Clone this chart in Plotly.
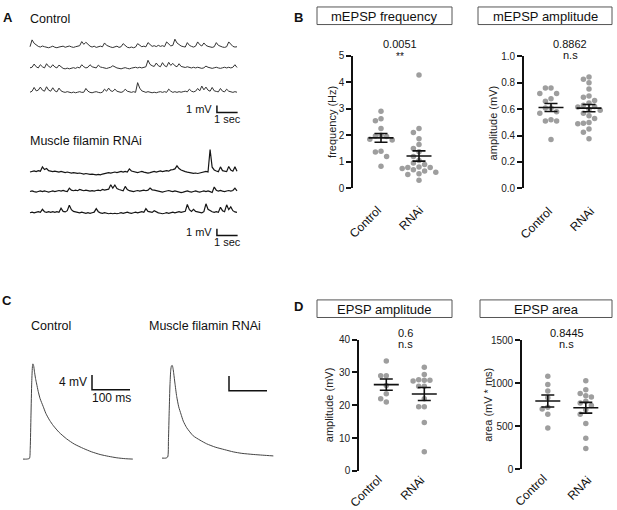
import plotly.graph_objects as go
import numpy as np

W, H = 617, 510
FONT = "Liberation Sans, Arial, sans-serif"

# ---------------- data ----------------
categories = ["Control", "RNAi"]

# Panel A: spontaneous mEPSP recordings (mV, 10 s each)
ctrl_trace_1 = [0.0, 1.0, 0.5, 0.2, 0.05, -0.05, 0.1, 0.0, -0.1, -0.15,
                -0.05, 0.08, -0.08, -0.15, -0.05, 0.0, 0.08, -0.08, 0.0, 0.1,
                -0.02, -0.1, 0.0, 0.08, 0.15, 0.75, 0.35, 0.65, 0.3, 0.08,
                -0.05, 0.08, -0.1, 0.0, 0.08, -0.02, 0.55, 0.2, 0.05, -0.05,
                -0.12, 0.0, 0.08, -0.1, 0.0, 0.45, 0.15, -0.08, -0.15, -0.05,
                -0.15, -0.05, 0.45, 0.15, 0.0, 0.08, -0.02, 0.6, 0.25, 0.05,
                0.15, 0.02, 0.2, 0.05, 0.15, 0.02, 0.7, 0.35, 0.12, 0.2,
                1.1, 0.55, 0.25, 0.1, 0.02, -0.05, 0.6, 0.2, 0.05, -0.05,
                0.08, 0.7, 0.3, 0.1, 0.55, 0.2, 0.05, -0.05, -0.1, 0.0,
                0.6, 0.2, 0.05, -0.05, -0.1, 0.0, 0.7, 0.3, 0.05, -0.05, 0.0]
ctrl_trace_2 = [0.0, 0.08, 0.55, 0.15, -0.02, 0.45, 0.15, -0.02, 0.6, 0.2,
                0.05, 0.45, 0.12, -0.02, 0.4, 0.08, -0.08, -0.15, -0.05, -0.15,
                -0.08, 0.02, -0.08, 0.08, -0.02, 0.45, 0.15, -0.02, 0.08, 0.45,
                0.15, 0.05, -0.02, 0.4, 0.12, 0.05, -0.02, -0.1, 0.0, 0.08,
                0.3, 0.08, -0.02, -0.08, -0.15, -0.05, 0.02, -0.08, -0.15, -0.05,
                0.02, 0.08, -0.02, 0.08, -0.02, 0.08, 0.15, 1.1, 0.5, 0.3,
                0.2, 0.7, 0.3, 0.15, 0.75, 0.3, 0.15, 0.8, 0.35, 0.65,
                0.3, 0.15, 0.6, 0.2, 0.12, 0.05, 0.15, 0.05, -0.02, 0.08,
                -0.02, 0.08, -0.02, -0.08, 0.0, 0.25, 0.08, -0.02, -0.08, 0.0,
                0.08, -0.02, -0.08, 0.0, 0.08, -0.02, 0.08, -0.02, 0.08, 0.45, 0.05]
ctrl_trace_3 = [0.0, 0.15, 0.7, 0.2, 0.3, 0.75, 0.3, 0.15, 0.8, 0.3,
                0.15, 0.65, 0.2, 0.05, 0.6, 0.2, 0.05, -0.02, 0.08, -0.02,
                -0.08, 0.02, -0.08, 0.0, 0.08, -0.02, 0.0, 0.55, 0.15, -0.02,
                -0.08, 0.02, 0.08, -0.02, -0.08, 0.0, 0.45, 0.15, 0.6, 0.2,
                0.12, 0.45, 0.15, 0.05, -0.02, 0.08, 0.45, 0.15, 0.05, -0.02,
                0.08, -0.02, 1.4, 0.6, 0.2, 0.05, -0.02, 0.08, -0.02, -0.08,
                0.0, -0.08, 0.02, 0.08, -0.02, 0.08, -0.02, 0.45, 0.15, -0.02,
                0.08, -0.02, 0.08, 0.0, 0.08, 0.15, 0.05, 0.45, 0.15, 0.05,
                0.15, 0.55, 0.2, 0.9, 0.35, 0.75, 0.3, 0.15, 0.7, 0.2,
                0.12, 0.05, 0.55, 0.15, 0.05, 0.45, 0.15, 0.05, -0.02, 0.08, 0.0]
rnai_trace_1 = [0.0, 0.08, 0.15, 0.05, 0.2, 0.12, 0.75, 0.35, 0.5, 0.2,
                0.12, 0.05, 0.12, 0.02, -0.02, 0.08, -0.02, -0.08, 0.0, -0.08,
                -0.15, -0.08, -0.15, -0.2, -0.15, -0.22, -0.3, -0.22, -0.3, -0.35,
                -0.3, -0.38, -0.42, -0.35, -0.42, -0.3, -0.22, -0.15, -0.08, -0.15,
                -0.08, 0.0, -0.08, 0.0, 0.08, -0.02, 0.08, 0.0, 0.45, 0.15,
                0.05, -0.02, -0.08, 0.0, 0.08, -0.02, -0.08, -0.15, -0.08, 0.0,
                0.08, -0.02, 0.08, 0.15, 0.05, 0.15, 0.2, 0.12, 0.3, 0.35,
                0.45, 0.9, 0.5, 0.3, 0.15, 0.05, -0.02, -0.08, -0.15, -0.2,
                -0.15, -0.22, -0.15, -0.08, 0.0, 0.08, 0.0, 3.3, 0.7, 0.3,
                0.15, 0.05, 0.75, 0.2, 0.12, 0.05, 0.8, 0.3, 0.12, 0.75, 0.1]
rnai_trace_2 = [0.0, 0.08, -0.02, -0.08, 0.0, 0.08, -0.02, 0.08, 0.0, -0.08,
                0.0, 0.08, 0.0, 0.08, 0.15, 0.05, 0.15, 0.05, 0.0, 0.5,
                0.2, 0.12, 0.2, 0.12, 0.3, 0.2, 0.12, 0.2, 0.12, 0.05,
                0.12, 0.05, 0.15, 0.2, 0.12, 0.3, 0.2, 0.3, 0.35, 1.0,
                0.5, 0.95, 0.45, 0.3, 0.2, 0.12, 0.75, 0.3, 0.12, 0.05,
                -0.02, 0.08, 0.15, 0.05, 0.15, 0.2, 0.12, 0.2, 0.5, 0.25,
                0.2, 0.12, 0.05, -0.02, -0.08, 0.0, 0.08, 0.15, 0.05, -0.02,
                0.08, -0.02, -0.08, -0.15, -0.08, 0.0, 0.08, -0.02, -0.08, 0.0,
                0.08, -0.02, -0.08, 0.0, 0.08, -0.02, 0.08, -0.02, -0.15, 0.65,
                0.2, 0.05, 0.15, 0.05, -0.02, 0.08, 0.15, 0.05, 0.15, 0.5, 0.1]
rnai_trace_3 = [0.0, 0.08, -0.02, 0.08, 0.15, 0.05, 0.5, 0.15, 0.05, 0.15,
                0.05, 0.15, 0.05, 0.15, 0.05, 0.65, 0.2, 0.12, 0.3, 1.1,
                0.45, 0.2, 0.12, 0.05, -0.02, 0.08, -0.02, -0.08, 0.0, -0.08,
                0.0, 0.08, 0.6, 0.15, -0.02, -0.08, 0.0, -0.08, -0.15, -0.08,
                -0.15, -0.08, -0.15, -0.08, 0.0, -0.08, 0.0, 0.08, -0.02, -0.08,
                0.0, 0.08, -0.02, 0.08, 0.15, 0.05, 0.6, 0.2, 0.12, 0.05,
                0.3, 0.12, -0.02, -0.08, -0.15, -0.08, 0.0, -0.08, 0.0, 0.08,
                -0.02, 0.08, 0.15, 0.05, 0.15, 0.2, 1.2, 0.45, 0.2, 0.5,
                0.2, 0.12, 0.05, -0.02, 0.15, 1.3, 0.5, 0.3, 0.15, 0.05,
                0.15, 0.05, 0.8, 0.3, 0.15, 1.15, 0.45, 0.85, 0.3, 0.12, 0.05]
trace_duration_s = 10.0

# Panel C: averaged evoked EPSPs (time ms, voltage mV)
epsp_ctrl_t = [0, 10, 17, 19, 21, 23, 25, 26, 28, 30, 33, 36, 40, 45, 53, 60, 70,
               80, 95, 115, 135, 159, 180, 203, 225, 247, 270, 289]
epsp_ctrl_v = [0, 0, 0.2, 3, 12, 21, 25.5, 26, 25.5, 24, 22, 20.5, 18.5, 16.5, 14.4,
               12.5, 10.6, 9.1, 7.3, 5.5, 4.1, 2.9, 2.0, 1.25, 0.75, 0.35, 0.1, 0]
epsp_rnai_t = [0, 10, 15, 17, 19, 21, 23, 25, 27, 29, 31, 34, 38.7, 44, 50, 56, 65,
               82, 100, 117.6, 140, 165, 187.6, 210, 240, 265, 293]
epsp_rnai_v = [0, 0, 0.3, 5, 13, 20, 24, 25.2, 25.3, 24.5, 23, 20.5, 16.8, 14, 12,
               10.1, 8.3, 6.1, 4.9, 3.9, 3.0, 2.3, 1.7, 1.3, 1.0, 0.8, 0.6]

# Panel B
mepsp_freq_ctrl = [2.9, 2.62, 2.54, 2.25, 2.0, 1.97, 1.95, 1.85, 1.82, 1.4, 1.37, 1.2, 0.83]
mepsp_freq_rnai = [4.27, 2.25, 2.1, 1.87, 1.65, 1.5, 1.38, 1.2, 1.05, 0.95, 0.9, 0.8,
                   0.78, 0.78, 0.75, 0.7, 0.65, 0.6, 0.55, 0.52, 0.3]
mepsp_amp_ctrl = [0.76, 0.76, 0.72, 0.72, 0.68, 0.66, 0.61, 0.61, 0.58, 0.57, 0.52,
                  0.51, 0.51, 0.37]
mepsp_amp_rnai = [0.827, 0.845, 0.8, 0.753, 0.69, 0.7, 0.667, 0.647, 0.63, 0.617, 0.62,
                  0.6, 0.593, 0.57, 0.55, 0.53, 0.5, 0.494, 0.49, 0.45, 0.425, 0.375]
# Panel D
epsp_amp_ctrl = [33.5, 29, 29, 26, 23.5, 22, 21]
epsp_amp_rnai = [31.6, 29.4, 27.8, 27.6, 27.4, 27.6, 25.8, 25.8, 22.0, 19.5, 19.5, 14.7, 5.8]
epsp_area_ctrl = [1080, 985, 910, 830, 720, 700, 640, 480]
epsp_area_rnai = [1030, 925, 880, 855, 840, 790, 770, 740, 690, 640, 530, 360, 240]

p_values = ["0.0051", "0.8862", "0.6", "0.8445"]
signif = ["**", "n.s", "n.s", "n.s"]
panel_titles = ["mEPSP frequency", "mEPSP amplitude", "EPSP amplitude", "EPSP area"]
y_titles = ["frequency (Hz)", "amplitude (mV)", "amplitude (mV)", "area (mV * ms)"]

# ---------------- helpers ----------------
def fx(p): return p / W
def fy(p): return 1 - p / H

fig = go.Figure()
layout = {}
annotations = []
shapes = []

def ax_names(n):
    return ("x" if n == 1 else f"x{n}"), ("y" if n == 1 else f"y{n}")

def set_axes(n, xdom, ydom, xr, yr, xkw=None, ykw=None):
    xn, yn = ax_names(n)
    xk = "xaxis" if n == 1 else f"xaxis{n}"
    yk = "yaxis" if n == 1 else f"yaxis{n}"
    xd = dict(domain=[fx(xdom[0]), fx(xdom[1])], range=xr, anchor=yn,
              showgrid=False, zeroline=False, fixedrange=True)
    yd = dict(domain=[fy(ydom[1]), fy(ydom[0])], range=yr, anchor=xn,
              showgrid=False, zeroline=False, fixedrange=True)
    if xkw: xd.update(xkw)
    else: xd.update(visible=False)
    if ykw: yd.update(ykw)
    else: yd.update(visible=False)
    layout[xk] = xd
    layout[yk] = yd

def ptext(px_, py_, s, size=12, bold=False, xanchor="center", yanchor="middle", angle=0):
    annotations.append(dict(x=fx(px_), y=fy(py_), xref="paper", yref="paper",
                            text=(f"<b>{s}</b>" if bold else s), textangle=angle,
                            showarrow=False, xanchor=xanchor, yanchor=yanchor,
                            font=dict(family=FONT, size=size, color="#111")))

# ---------------- Panel A ----------------
PX_PER_S = 20.7
PX_PER_MV = 7.0
T0 = 30
def a_axes(n, top_px, bot_px, base_px):
    ymax = (base_px - top_px) / PX_PER_MV
    ymin = ymax - (bot_px - top_px) / PX_PER_MV
    xr = [(28 - T0) / PX_PER_S, (240 - T0) / PX_PER_S]
    set_axes(n, (28, 240), (top_px, bot_px), xr, [ymin, ymax])
    return ymax

ymax_a1 = a_axes(1, 28, 115, 41.7)
ymax_a2 = a_axes(2, 140, 242, 170)

def add_rec(n, traces, offsets, color, width):
    xn, yn = ax_names(n)
    for tr, off in zip(traces, offsets):
        t = [i * trace_duration_s / (len(tr) - 1) for i in range(len(tr))]
        fig.add_trace(go.Scatter(x=t, y=[v + off for v in tr], mode="lines",
                                 line=dict(color=color, width=width), xaxis=xn, yaxis=yn,
                                 hoverinfo="skip", showlegend=False))

add_rec(1, [ctrl_trace_1, ctrl_trace_2, ctrl_trace_3],
        [0, -21.6 / PX_PER_MV, -46.6 / PX_PER_MV], "#333333", 1.0)
add_rec(2, [rnai_trace_1, rnai_trace_2, rnai_trace_3],
        [0, -20 / PX_PER_MV, -41.7 / PX_PER_MV], "#151515", 1.2)

def scalebar(n, x0, y0, dx, dy, ltext=None, btext=None, size=11):
    xn, yn = ax_names(n)
    shapes.append(dict(type="path", xref=xn, yref=yn,
                       path=f"M {x0} {y0 + dy} L {x0} {y0} L {x0 + dx} {y0}",
                       line=dict(color="#111", width=1.5)))
    if ltext:
        annotations.append(dict(x=x0, y=y0 + dy * 0.5, xref=xn, yref=yn, text=ltext, showarrow=False,
                                xanchor="right", yanchor="middle", xshift=-3,
                                font=dict(family=FONT, size=size, color="#111")))
    if btext:
        annotations.append(dict(x=x0 + dx / 2, y=y0, xref=xn, yref=yn, text=btext, showarrow=False,
                                xanchor="center", yanchor="top", yshift=1,
                                font=dict(family=FONT, size=size, color="#111")))

scalebar(1, 9.03, ymax_a1 - (109 - 28) / PX_PER_MV, 1.0, 1.0, "1 mV", "1 sec")
scalebar(2, 9.03, ymax_a2 - (235 - 140) / PX_PER_MV, 1.0, 1.0, "1 mV", "1 sec")

ptext(8, 12, "A", 13, True)
ptext(28, 13, "Control", 12.5, xanchor="left")
ptext(28, 138, "Muscle filamin RNAi", 12.5, xanchor="left")

# ---------------- Panel C ----------------
PX_PER_MS = 0.38
PX_PER_MV_C = 3.75
def c_axes(n, x0px, x1px, startpx, basepx):
    xr = [(x0px - startpx) / PX_PER_MS, (x1px - startpx) / PX_PER_MS]
    ymax = (basepx - 355) / PX_PER_MV_C
    ymin = ymax - (472 - 355) / PX_PER_MV_C
    set_axes(n, (x0px, x1px), (355, 472), xr, [ymin, ymax])

c_axes(3, 18, 145, 23, 464)
c_axes(4, 155, 285, 162, 463)
for n, t, v in [(3, epsp_ctrl_t, epsp_ctrl_v), (4, epsp_rnai_t, epsp_rnai_v)]:
    xn, yn = ax_names(n)
    fig.add_trace(go.Scatter(x=t, y=v, mode="lines",
                             line=dict(color="#444", width=1, shape="spline", smoothing=0.6),
                             xaxis=xn, yaxis=yn, hoverinfo="skip", showlegend=False))
scalebar(3, (92 - 23) / PX_PER_MS, (464 - 393) / PX_PER_MV_C, 100, 4, "4 mV", "100 ms", 12)
scalebar(4, (229 - 162) / PX_PER_MS, (463 - 394) / PX_PER_MV_C, 100, 4)

ptext(7, 302, "C", 13, True)
ptext(29, 328, "Control", 12.5, xanchor="left")
ptext(147, 328, "Muscle filamin RNAi", 12.5, xanchor="left")

# ---------------- Panels B & D ----------------
PX_PER_CAT = 38.0
def swarm(vals, ppu_y, step=5.6):
    placed = []
    xs = [0.0] * len(vals)
    order = sorted(range(len(vals)), key=lambda i: -vals[i])
    cands = [0, -1, 1, -2, 2, -3, 3, -4, 4, -5, 5, -6, 6]
    for i in order:
        y = vals[i] * ppu_y
        for c in cands:
            x = c * step
            if all((x - a) ** 2 + (y - b) ** 2 >= (step * 0.98) ** 2 for a, b in placed):
                break
        placed.append((x, y))
        xs[i] = x / PX_PER_CAT
    return xs

def scatter_panel(n, axis_px, ctrl_px, right_px, ytop, ybot, yrange, dtick, tickfmt,
                  groups, box, pval, sig, p_y, s_y, ytitle, ytitle_x, label_pos):
    xr = [(axis_px - ctrl_px) / PX_PER_CAT, (right_px - ctrl_px) / PX_PER_CAT]
    set_axes(n, (axis_px, right_px), (ytop, ybot), xr, yrange,
             xkw=dict(visible=True, showline=False, ticks="", showticklabels=False),
             ykw=dict(visible=True, showline=True, linecolor="#111", linewidth=1.6, ticks="outside",
                      ticklen=5, tickwidth=1.5, tickcolor="#111", dtick=dtick, tick0=0,
                      tickformat=tickfmt, tickfont=dict(family=FONT, size=10, color="#222")))
    xn, yn = ax_names(n)
    ppu_y = (ybot - ytop) / (yrange[1] - yrange[0])
    for gi, vals in enumerate(groups):
        offs = swarm(vals, ppu_y)
        fig.add_trace(go.Scatter(x=[gi + o for o in offs], y=vals, mode="markers",
                                 marker=dict(color="#9e9e9e", size=5.5, line=dict(width=0)),
                                 xaxis=xn, yaxis=yn, hoverinfo="skip", showlegend=False, cliponaxis=False))
        m = float(np.mean(vals))
        sem = float(np.std(vals, ddof=1) / np.sqrt(len(vals)))
        hw = 12.5 / PX_PER_CAT
        cw = 6.5 / PX_PER_CAT
        lx = [gi - hw, gi + hw, None, gi, gi, None, gi - cw, gi + cw, None, gi - cw, gi + cw]
        ly = [m, m, None, m - sem, m + sem, None, m + sem, m + sem, None, m - sem, m - sem]
        fig.add_trace(go.Scatter(x=lx, y=ly, mode="lines", line=dict(color="#111", width=1.6),
                                 xaxis=xn, yaxis=yn, hoverinfo="skip", showlegend=False, cliponaxis=False))
    for (lx_, ly_), cat in zip(label_pos, categories):
        ptext(lx_, ly_, cat, 12, xanchor="right", yanchor="top", angle=-45)
    bx0, bx1, by0, by1, title = box
    shapes.append(dict(type="rect", xref="paper", yref="paper", x0=fx(bx0), x1=fx(bx1),
                       y0=fy(by1), y1=fy(by0), line=dict(color="#555", width=1)))
    ptext((bx0 + bx1) / 2, (by0 + by1) / 2 + 0.5, title, 13)
    pcx = ctrl_px + PX_PER_CAT * 0.5
    ptext(pcx, p_y, pval, 11)
    ptext(pcx, s_y, sig, 10 if sig == "**" else 11)
    annotations.append(dict(x=fx(ytitle_x), y=fy((ytop + ybot) / 2), xref="paper", yref="paper",
                            text=ytitle, textangle=-90, showarrow=False, xanchor="center", yanchor="middle",
                            font=dict(family=FONT, size=11, color="#222")))

scatter_panel(5, 353, 381, 455, 50.7, 186.7, [0, 5], 1, "d",
              [mepsp_freq_ctrl, mepsp_freq_rnai], (317, 452, 1, 19, panel_titles[0]),
              p_values[0], signif[0], 39, 51.5, y_titles[0], 332, [(387, 199), (429, 199)])
scatter_panel(6, 524, 551, 615, 51.7, 186.7, [0, 1], 0.2, ".1f",
              [mepsp_amp_ctrl, mepsp_amp_rnai], (478, 612, 1, 19, panel_titles[1]),
              p_values[1], signif[1], 39, 50.5, y_titles[1], 493, [(558, 200), (600, 200)])
scatter_panel(7, 359, 386.3, 455, 341.7, 476, [0, 40], 10, "d",
              [epsp_amp_ctrl, epsp_amp_rnai], (317, 452, 301, 319, panel_titles[2]),
              p_values[2], signif[2], 334.5, 346, y_titles[2], 329, [(388, 475), (430, 475)])
scatter_panel(8, 522, 547.8, 615, 342.3, 474.3, [0, 1500], 500, "d",
              [epsp_area_ctrl, epsp_area_rnai], (480, 612, 301, 319, panel_titles[3]),
              p_values[3], signif[3], 335, 346.5, y_titles[3], 488, [(553, 474), (597, 475)])

ptext(298, 12, "B", 13, True)
ptext(298, 308, "D", 13, True)

fig.update_layout(width=W, height=H, margin=dict(l=0, r=0, t=0, b=0),
                  paper_bgcolor="white", plot_bgcolor="rgba(0,0,0,0)",
                  showlegend=False, annotations=annotations, shapes=shapes, **layout)
fig.write_html("out.html", config={"displayModeBar": False},
               post_script="document.body.style.margin='0';document.body.style.padding='0';")
